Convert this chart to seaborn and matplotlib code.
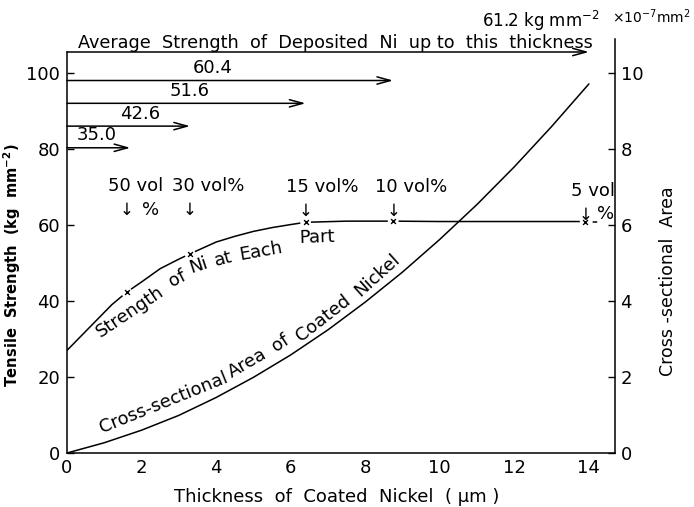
import numpy as np
import pandas as pd
import matplotlib
matplotlib.use("Agg")
import matplotlib.pyplot as plt
import seaborn as sns

# ---------------- data ----------------
area_thickness = [0, 1, 2, 3, 4, 5, 6, 7, 8, 9, 10, 11, 12, 13, 14]
area_values = [0, 0.27, 0.60, 0.99, 1.46, 1.99, 2.58, 3.24, 3.97, 4.76, 5.62, 6.54, 7.53, 8.59, 9.71]

strength_thickness = [0, 0.4, 0.8, 1.2, 1.6, 2.0, 2.5, 3.0, 3.3, 4.0, 4.5, 5.0, 5.5, 6.0, 6.4, 7.5, 8.75, 10, 12, 13.9]
strength_values = [27, 31, 35, 39, 42.3, 45, 48.5, 51, 52.4, 55.5, 57, 58.3, 59.3, 60.1, 60.7, 61.0, 61.0, 60.9, 60.9, 60.9]
strength_tail_thickness = [13.9, 14.3]
strength_tail_values = [60.9, 60.9]

cross_thickness = [1.6, 3.3, 6.4, 8.75, 13.9]
cross_strength = [42.3, 52.4, 60.7, 61.0, 60.9]
vol_labels = ["50 vol", "30 vol%", "15 vol%", "10 vol%", "5 vol"]

avg_strength = [35.0, 42.6, 51.6, 60.4, 61.2]
avg_end_thickness = [1.7, 3.3, 6.4, 8.75, 14.0]
avg_arrow_level = [80.3, 86.0, 92.0, 98.0, 105.5]

x_ticks = [0, 2, 4, 6, 8, 10, 12, 14]
y_ticks_left = [0, 20, 40, 60, 80, 100]
y_ticks_right = [0, 2, 4, 6, 8, 10]

# ---------------- layout helpers (positions only) ----------------
avg_label_x = [0.8, 1.95, 3.3, 3.9]
vol_label_x = [1.85, 3.78, 6.84, 9.23, 14.11]
vol_label_y = [70.3, 70.3, 70.0, 70.0, 69.0]

strength_words = [("Strength", 1.69, 37.1, 34), ("of", 2.95, 45.8, 27), ("Ni", 3.52, 49.3, 18),
                  ("at", 4.2, 51.1, 15), ("Each", 5.2, 53.2, 10), ("Part", 6.7, 56.6, 2)]
area_words = [("Cross-sectional", 2.58, 13.2, 22), ("Area", 4.83, 23.7, 30), ("of", 5.74, 28.9, 33),
              ("Coated", 6.87, 35.5, 38), ("Nickel", 8.32, 46.8, 42)]

sns.set_theme(style="white")
plt.rcParams['font.family'] = ['DejaVu Sans']
plt.rcParams['mathtext.default'] = 'regular'
plt.rcParams['text.color'] = 'black'
plt.rcParams['axes.labelcolor'] = 'black'
plt.rcParams['xtick.color'] = 'black'
plt.rcParams['ytick.color'] = 'black'

W, H = 694, 507
fig = plt.figure(figsize=(W / 100, H / 100), dpi=100)
ax = fig.add_axes([67 / W, 1 - 453 / H, (615 - 67) / W, (453 - 52) / H])
ax2 = ax.twinx()

df_strength = pd.DataFrame({"t": strength_thickness, "s": strength_values})
df_tail = pd.DataFrame({"t": strength_tail_thickness, "s": strength_tail_values})
df_area = pd.DataFrame({"t": area_thickness, "a": area_values})
df_cross = pd.DataFrame({"t": cross_thickness, "s": cross_strength})

sns.lineplot(data=df_strength, x="t", y="s", ax=ax, color="black", lw=1.1, zorder=2)
sns.lineplot(data=df_tail, x="t", y="s", ax=ax, color="black", lw=1.1, linestyle=(0, (3, 2)), zorder=2)
sns.scatterplot(data=df_cross, x="t", y="s", ax=ax, color="white", marker="o", s=60,
                edgecolor="none", zorder=3)
sns.scatterplot(data=df_cross, x="t", y="s", ax=ax, color="black", marker="x", s=12,
                linewidth=1.0, zorder=4)
sns.lineplot(data=df_area, x="t", y="a", ax=ax2, color="black", lw=1.1, zorder=5)

ax.set_xlim(0, 14.7)
ax.set_ylim(0, 105.5)
ax2.set_ylim(0, 10.55)
ax.set_xticks(x_ticks)
ax.set_yticks(y_ticks_left)
ax2.set_yticks(y_ticks_right)
ax.set_xlabel("")
ax.set_ylabel("")
ax2.set_ylabel("")
ax.tick_params(axis="both", direction="in", length=5, width=1, labelsize=13, pad=4, colors="black")
ax.tick_params(axis="y", pad=5)
ax2.tick_params(axis="y", direction="in", length=5, width=1, labelsize=13, pad=4, colors="black")
for a in (ax, ax2):
    a.spines["top"].set_visible(False)
    for s in ("left", "right", "bottom"):
        a.spines[s].set_color("black")
        a.spines[s].set_linewidth(1.1)
ax.spines["right"].set_visible(False)
ax2.spines["left"].set_visible(False)
ax2.spines["bottom"].set_visible(False)
ax2.spines["right"].set_bounds(0, 10.9)
ax.grid(False)
ax2.grid(False)

# average-strength arrows
for end, lvl in zip(avg_end_thickness, avg_arrow_level):
    ax.annotate("", xy=(end, lvl), xytext=(0, lvl), annotation_clip=False,
                arrowprops=dict(arrowstyle="->,head_length=0.8,head_width=0.22", color="black",
                                lw=1.1, shrinkA=0, shrinkB=0))
for v, lx, lvl in zip(avg_strength[:-1], avg_label_x, avg_arrow_level[:-1]):
    ax.text(lx, lvl + 0.9, f"{v:.1f}", ha="center", va="bottom", fontsize=13)
ax.text(12.7, 112.0, f"{avg_strength[-1]:.1f} kg mm$^{{-2}}$", ha="center", va="baseline", fontsize=12)
ax.text(0.3, 106.6, "Average  Strength  of  Deposited  Ni  up to  this  thickness",
        ha="left", va="baseline", fontsize=12.7)

# vol% labels and arrows
for lab, lx, ly, cx in zip(vol_labels, vol_label_x, vol_label_y, cross_thickness):
    ax.text(lx, ly, lab, ha="center", va="center", fontsize=13)
    ax.text(cx, ly - 6.3, "↓", ha="center", va="center", fontsize=12)
ax.text(2.25, 64.0, "%", ha="center", va="center", fontsize=13)
ax.text(14.45, 63.0, "%", ha="center", va="center", fontsize=13)

# curved labels
for w, x, y, r in strength_words:
    ax.text(x, y, w, ha="center", va="center", rotation=r, fontsize=13, rotation_mode="anchor")
for w, x, y, r in area_words:
    ax.text(x, y, w, ha="center", va="center", rotation=r, fontsize=13, rotation_mode="anchor")

# axis labels
fig.text(12 / W, 1 - 265 / H, "Tensile  Strength  (kg  mm$^{-2}$)", rotation=90, ha="center",
         va="center", fontsize=10.5, fontweight="bold")
fig.text(668 / W, 1 - 281 / H, "Cross -sectional  Area", rotation=90, ha="center", va="center",
         fontsize=12.5)
fig.text(612 / W, 1 - 23 / H, "×10$^{-7}$mm$^{2}$", ha="left", va="baseline", fontsize=10)
fig.text(337 / W, 1 - 497 / H, "Thickness  of  Coated  Nickel  ( μm )", ha="center", va="center",
         fontsize=13)

fig.savefig("out.png", dpi=100, facecolor="white")
